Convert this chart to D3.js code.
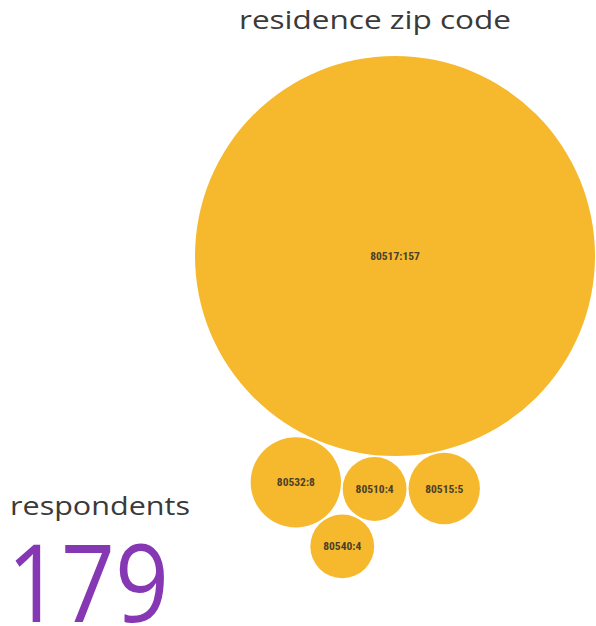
<!DOCTYPE html>
<html>
<head>
<meta charset="utf-8">
<script src="https://cdn.jsdelivr.net/npm/d3@7"></script>
<style>
  body { margin: 0; background: #fff; }
</style>
</head>
<body>
<div id="wrapper"></div>
<script>
// zip codes and respondent counts
const zips = ["80517", "80532", "80510", "80515", "80540"];
const counts = [157, 8, 4, 5, 4];
const title = "residence zip code";
const totalLabel = "respondents";
const total = 179;

function buildPlot() {
    var dimension = { width: 596, height: 626 };

    const data = zips.map((z, i) => ({ zip: z, count: counts[i] }));

    const svg = d3.select("#wrapper").append("svg")
        .attr("width", dimension.width)
        .attr("height", dimension.height);

    // area-proportional radius
    const rScale = d3.scaleSqrt()
        .domain([0, d3.max(data, d => d.count)])
        .range([0, 200]);
    data.forEach(d => d.r = rScale(d.count));

    // tangent placement: circle of radius r touching a and b, on the chosen side
    const gap = 2;
    function tangent(a, b, r, side) {
        const dx = b.x - a.x, dy = b.y - a.y;
        const d = Math.hypot(dx, dy);
        const ra = a.r + r + gap, rb = b.r + r + gap;
        const t = (ra * ra - rb * rb + d * d) / (2 * d);
        const h = Math.sqrt(Math.max(0, ra * ra - t * t));
        return {
            x: a.x + (dx * t - side * dy * h) / d,
            y: a.y + (dy * t + side * dx * h) / d
        };
    }

    const big = data[0];
    big.x = 395;
    big.y = 256;
    // first small bubble hangs just below the big one
    const mid = data[2];
    const ang = 95 * Math.PI / 180;
    mid.x = big.x + (big.r + mid.r + gap) * Math.cos(ang);
    mid.y = big.y + (big.r + mid.r + gap) * Math.sin(ang);
    Object.assign(data[1], tangent(big, mid, data[1].r, 1));
    Object.assign(data[3], tangent(big, mid, data[3].r, -1));
    Object.assign(data[4], tangent(data[1], mid, data[4].r, 1));

    const nodes = svg.append("g")
        .selectAll("g")
        .data(data)
        .join("g")
        .attr("transform", d => `translate(${d.x},${d.y})`);

    nodes.append("circle")
        .attr("r", d => d.r)
        .attr("fill", "#f6b92d");

    nodes.append("text")
        .attr("text-anchor", "middle")
        .attr("dy", "0.35em")
        .attr("font-family", "'Roboto Condensed', 'Liberation Sans Narrow', Roboto, sans-serif")
        .attr("font-weight", 700)
        .attr("font-size", 11.5)
        .attr("fill", "#4a4128")
        .text(d => `${d.zip}:${d.count}`);

    svg.append("text")
        .attr("x", 375)
        .attr("y", 29)
        .attr("text-anchor", "middle")
        .attr("font-family", "'Open Sans', sans-serif")
        .attr("font-size", 25)
        .attr("textLength", 272)
        .attr("lengthAdjust", "spacingAndGlyphs")
        .attr("fill", "#3a3a3a")
        .text(title);

    svg.append("text")
        .attr("x", 10)
        .attr("y", 515)
        .attr("font-family", "'Open Sans', sans-serif")
        .attr("font-size", 26)
        .attr("textLength", 180)
        .attr("lengthAdjust", "spacingAndGlyphs")
        .attr("fill", "#3a3a3a")
        .text(totalLabel);

    svg.append("text")
        .attr("x", 7)
        .attr("y", 622)
        .attr("font-family", "'Open Sans', sans-serif")
        .attr("font-size", 108)
        .attr("textLength", 162)
        .attr("lengthAdjust", "spacingAndGlyphs")
        .attr("fill", "#8638b4")
        .text(total);
}

buildPlot();
</script>
</body>
</html>
